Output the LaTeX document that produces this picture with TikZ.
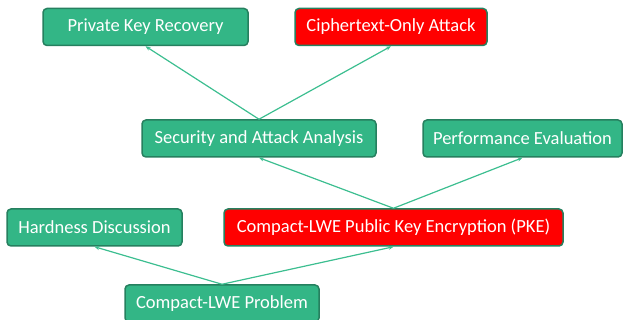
\documentclass[tikz,border=0pt]{standalone}
\usepackage{fontspec}
\setmainfont{Carlito}
\usetikzlibrary{arrows.meta}

\definecolor{boxgreen}{RGB}{51,182,134}
\definecolor{boxedge}{RGB}{38,128,95}
\definecolor{linkgreen}{RGB}{60,190,144}
\definecolor{boxred}{RGB}{255,0,0}

\tikzset{
  box/.style={draw=boxedge, line width=1.5pt, fill=boxgreen, rounded corners=4pt,
              text=white, minimum height=37pt, inner sep=0pt, font=\fontsize{18.5}{22}\selectfont},
  redbox/.style={box, fill=boxred},
  link/.style={draw=linkgreen, line width=1.2pt, -{Stealth[length=5pt,width=4pt]}}
}

\begin{document}
\begin{tikzpicture}[x=1pt,y=-1pt]
  \useasboundingbox (0,0) rectangle (624,320);
  % top row
  \node[box, minimum width=205pt] (pkr) at (145.5,27) {Private Key Recovery};
  \node[redbox, minimum width=192pt] (coa) at (391,27) {Ciphertext-Only Attack};
  % middle row
  \node[box, minimum width=234pt] (saa) at (259,138.5) {Security and Attack Analysis};
  \node[box, minimum width=199pt] (pe) at (522.5,138.5) {Performance Evaluation};
  % lower row
  \node[box, minimum width=175pt] (hd) at (94.5,227.5) {Hardness Discussion};
  \node[redbox, minimum width=339pt] (pke) at (393.5,227.5) {Compact-LWE Public Key Encryption (PKE)};
  % bottom
  \node[box, minimum width=194pt] (clp) at (222,303.5) {Compact-LWE Problem};
  % links
  \draw[link] (saa.north) -- (pkr.south);
  \draw[link] (saa.north) -- (coa.south);
  \draw[link] (pke.north) -- (saa.south);
  \draw[link] (pke.north) -- (pe.south);
  \draw[link] (clp.north) -- (hd.south);
  \draw[link] (clp.north) -- (pke.south);
\end{tikzpicture}
\end{document}
